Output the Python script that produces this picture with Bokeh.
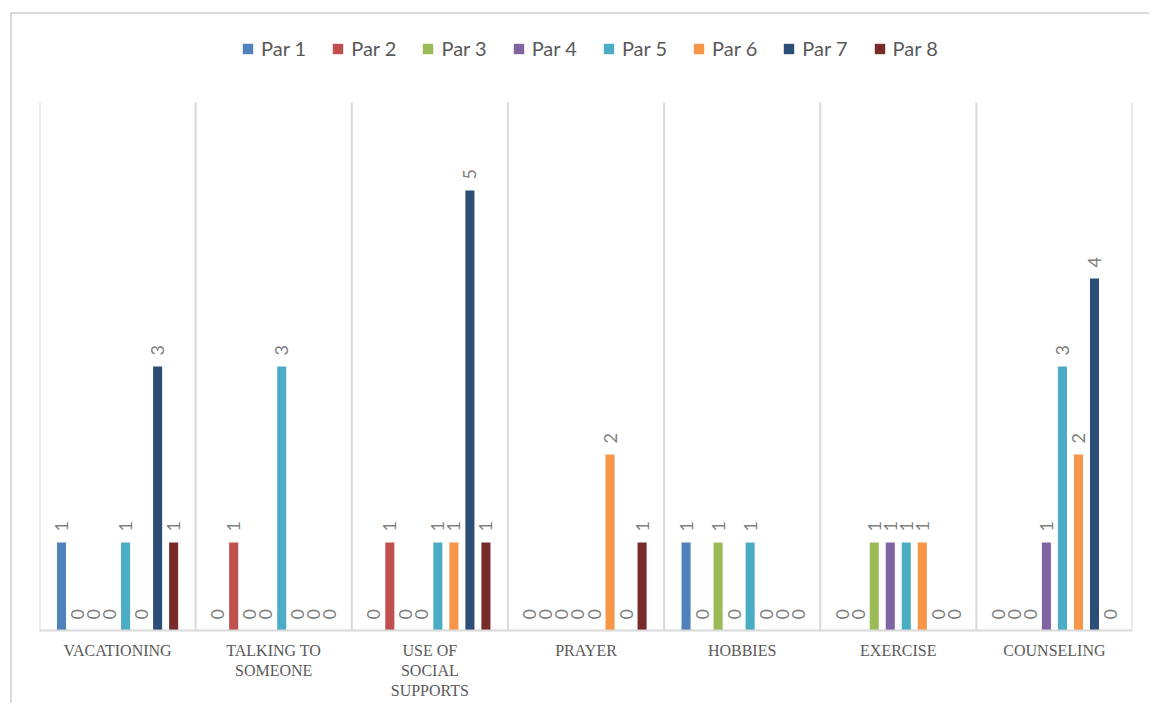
import numpy as np
from bokeh.plotting import figure
from bokeh.models import ColumnDataSource, FactorRange, Range1d, Legend, LegendItem
from bokeh.transform import dodge
from bokeh.core.properties import value
from bokeh.embed import file_html
from bokeh.resources import INLINE

categories = ["VACATIONING", "TALKING TO\nSOMEONE", "USE OF\nSOCIAL\nSUPPORTS",
              "PRAYER", "HOBBIES", "EXERCISE", "COUNSELING"]
series = ["Par 1", "Par 2", "Par 3", "Par 4", "Par 5", "Par 6", "Par 7", "Par 8"]
par1 = [1, 0, 0, 0, 1, 0, 0]
par2 = [0, 1, 1, 0, 0, 0, 0]
par3 = [0, 0, 0, 0, 1, 1, 0]
par4 = [0, 0, 0, 0, 0, 1, 1]
par5 = [1, 3, 1, 0, 1, 1, 3]
par6 = [0, 0, 1, 2, 0, 1, 2]
par7 = [3, 0, 5, 0, 0, 0, 4]
par8 = [1, 0, 1, 1, 0, 0, 0]
values = [par1, par2, par3, par4, par5, par6, par7, par8]
colors = ["#4F81BD", "#C0504D", "#9BBB59", "#8064A2", "#4BACC6", "#F79646", "#2C4D75", "#772C2A"]

axis_max = 6      # top of the (hidden) value axis
room_top = 7.0    # extra room above the plot area for the legend

p = figure(width=1139, height=691, x_range=FactorRange(*categories), y_range=Range1d(0, room_top),
           output_backend="svg", toolbar_location=None,
           min_border_left=27, min_border_right=19, min_border_top=0, min_border_bottom=75)
p.styles = {"margin-left": "10px", "margin-top": "12px",
            "border-left": "2px solid #d9d9d9", "border-top": "2px solid #d9d9d9"}
p.outline_line_color = None
p.background_fill_color = "white"
p.border_fill_color = "white"

# category separator lines spanning the plot area
bounds = list(range(len(categories) + 1))
p.segment(x0=bounds, y0=[0] * len(bounds), x1=bounds, y1=[axis_max] * len(bounds),
          line_color="#d9d9d9", line_width=2)

pitch = 0.1026
bar_w = 0.058
items = []
for j, (name, vals, col) in enumerate(zip(series, values, colors)):
    off = (j - 3.5) * pitch
    src = ColumnDataSource(dict(cat=categories, val=vals, lab=[str(v) for v in vals]))
    r = p.vbar(x=dodge("cat", off, range=p.x_range), top="val", bottom=0, width=bar_w,
               source=src, fill_color=col, line_color=None)
    p.text(x=dodge("cat", off, range=p.x_range), y="val", text="lab", source=src,
           angle=np.pi / 2, text_align="left", text_baseline="middle", y_offset=-11,
           text_font=value("Lato"), text_font_size="18px", text_color="#808080")
    items.append(LegendItem(label=name, renderers=[r]))

legend = Legend(items=items, orientation="horizontal", location=(202, 570),
                glyph_width=13, glyph_height=13, label_standoff=7, spacing=25,
                padding=0, margin=0, border_line_color=None, background_fill_alpha=0,
                label_text_font="Lato", label_text_font_size="20px", label_text_color="#595959")
p.add_layout(legend, "center")

p.yaxis.visible = False
p.ygrid.grid_line_color = None
p.xgrid.grid_line_color = None

ax = p.xaxis[0]
ax.axis_line_color = "#d9d9d9"
ax.axis_line_width = 2
ax.major_tick_line_color = None
ax.minor_tick_line_color = None
ax.major_label_standoff = 5
ax.major_label_text_font = "Liberation Serif"
ax.major_label_text_font_size = "16px"
ax.major_label_text_color = "#595959"
ax.major_label_orientation = "horizontal"

open("out.html", "w").write(file_html(p, INLINE))
